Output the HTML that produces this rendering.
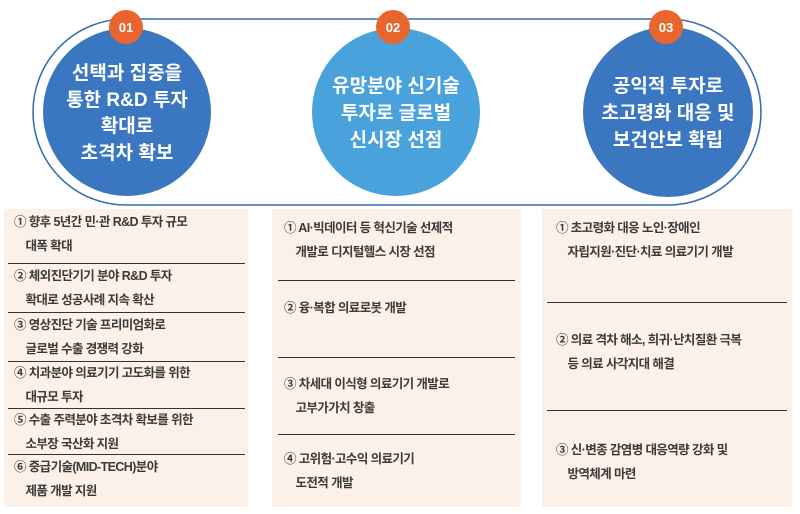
<!DOCTYPE html>
<html><head><meta charset="utf-8"><style>
html,body{margin:0;padding:0;background:#fff;}
body{width:800px;height:514px;overflow:hidden;position:relative;font-family:"Liberation Sans","Noto Sans CJK KR",sans-serif;}
svg{position:absolute;left:0;top:0;}
.p{position:absolute;background:#fcf1e8;}
.t{position:absolute;font-size:12.5px;color:#3a3a3a;font-weight:bold;line-height:24px;white-space:nowrap;letter-spacing:-0.6px;}
.l{position:absolute;height:0;border-top:1.5px solid #333;}
</style></head><body>
<svg width="800" height="514">
<defs><radialGradient id="g" cx="50%" cy="0%" r="60%"><stop offset="0" stop-color="#cfe3f5"/><stop offset="1" stop-color="#fff" stop-opacity="0"/></radialGradient></defs>
<ellipse cx="400" cy="0" rx="190" ry="14" fill="url(#g)"/>
<path d="M126,19 A93,93 0 0 0 126,205 L668,205 A93,93 0 0 0 668,19 Z" fill="none" stroke="#3a6fb5" stroke-width="1.6"/>
<circle cx="127" cy="112" r="84" fill="#3b77c1"/>
<circle cx="396" cy="112" r="84" fill="#49a2dc"/>
<circle cx="668" cy="112" r="85" fill="#3b77c1"/>
<g fill="#e8652e"><circle cx="126" cy="27" r="17"/><circle cx="393" cy="27" r="17"/><circle cx="666" cy="27" r="17"/></g>
<g fill="#fff" font-family="Liberation Sans, sans-serif" font-size="13" font-weight="bold" text-anchor="middle">
<text x="126" y="32">01</text><text x="393" y="32">02</text><text x="666" y="32">03</text></g>
<g fill="#fff" font-family="Liberation Sans, Noto Sans CJK KR, sans-serif" font-size="19" font-weight="bold" text-anchor="middle">
<text x="127" y="79">선택과 집중을</text><text x="127" y="106">통한 R&amp;D 투자</text><text x="127" y="132">확대로</text><text x="127" y="159">초격차 확보</text>
<text x="396" y="92">유망분야 신기술</text><text x="396" y="119">투자로 글로벌</text><text x="396" y="146">신시장 선점</text>
<text x="668" y="92">공익적 투자로</text><text x="668" y="119">초고령화 대응 및</text><text x="668" y="146">보건안보 확립</text>
</g>
</svg>
<div class="p" style="left:4px;top:209px;width:244px;height:298px"></div>
<div class="p" style="left:272px;top:209px;width:249px;height:298px"></div>
<div class="p" style="left:542px;top:209px;width:250px;height:298px"></div>

<div class="t" style="left:14px;top:210px">① 향후 5년간 민·관 R&amp;D 투자 규모<br>&nbsp;&nbsp;&nbsp;&nbsp;대폭 확대</div>
<div class="l" style="left:8px;top:263px;width:237px"></div>
<div class="t" style="left:14px;top:264px">② 체외진단기기 분야 R&amp;D 투자<br>&nbsp;&nbsp;&nbsp;&nbsp;확대로 성공사례 지속 확산</div>
<div class="l" style="left:8px;top:312px;width:237px"></div>
<div class="t" style="left:14px;top:313px">③ 영상진단 기술 프리미엄화로<br>&nbsp;&nbsp;&nbsp;&nbsp;글로벌 수출 경쟁력 강화</div>
<div class="l" style="left:8px;top:361px;width:237px"></div>
<div class="t" style="left:14px;top:361px">④ 치과분야 의료기기 고도화를 위한<br>&nbsp;&nbsp;&nbsp;&nbsp;대규모 투자</div>
<div class="l" style="left:8px;top:408px;width:237px"></div>
<div class="t" style="left:14px;top:408px">⑤ 수출 주력분야 초격차 확보를 위한<br>&nbsp;&nbsp;&nbsp;&nbsp;소부장 국산화 지원</div>
<div class="l" style="left:8px;top:454px;width:237px"></div>
<div class="t" style="left:14px;top:455px">⑥ 중급기술(MID-TECH)분야<br>&nbsp;&nbsp;&nbsp;&nbsp;제품 개발 지원</div>

<div class="t" style="left:284px;top:216px">① AI·빅데이터 등 혁신기술 선제적<br>&nbsp;&nbsp;&nbsp;&nbsp;개발로 디지털헬스 시장 선점</div>
<div class="l" style="left:278px;top:280px;width:237px"></div>
<div class="t" style="left:284px;top:296px">② 융·복합 의료로봇 개발</div>
<div class="l" style="left:278px;top:357px;width:237px"></div>
<div class="t" style="left:284px;top:372px">③ 차세대 이식형 의료기기 개발로<br>&nbsp;&nbsp;&nbsp;&nbsp;고부가가치 창출</div>
<div class="l" style="left:278px;top:434px;width:237px"></div>
<div class="t" style="left:284px;top:447px">④ 고위험·고수익 의료기기<br>&nbsp;&nbsp;&nbsp;&nbsp;도전적 개발</div>

<div class="t" style="left:556px;top:216px">① 초고령화 대응 노인·장애인<br>&nbsp;&nbsp;&nbsp;&nbsp;자립지원·진단·치료 의료기기 개발</div>
<div class="l" style="left:547px;top:302px;width:240px"></div>
<div class="t" style="left:556px;top:328px">② 의료 격차 해소, 희귀·난치질환 극복<br>&nbsp;&nbsp;&nbsp;&nbsp;등 의료 사각지대 해결</div>
<div class="l" style="left:547px;top:410px;width:240px"></div>
<div class="t" style="left:556px;top:438px">③ 신·변종 감염병 대응역량 강화 및<br>&nbsp;&nbsp;&nbsp;&nbsp;방역체계 마련</div>
</body></html>
